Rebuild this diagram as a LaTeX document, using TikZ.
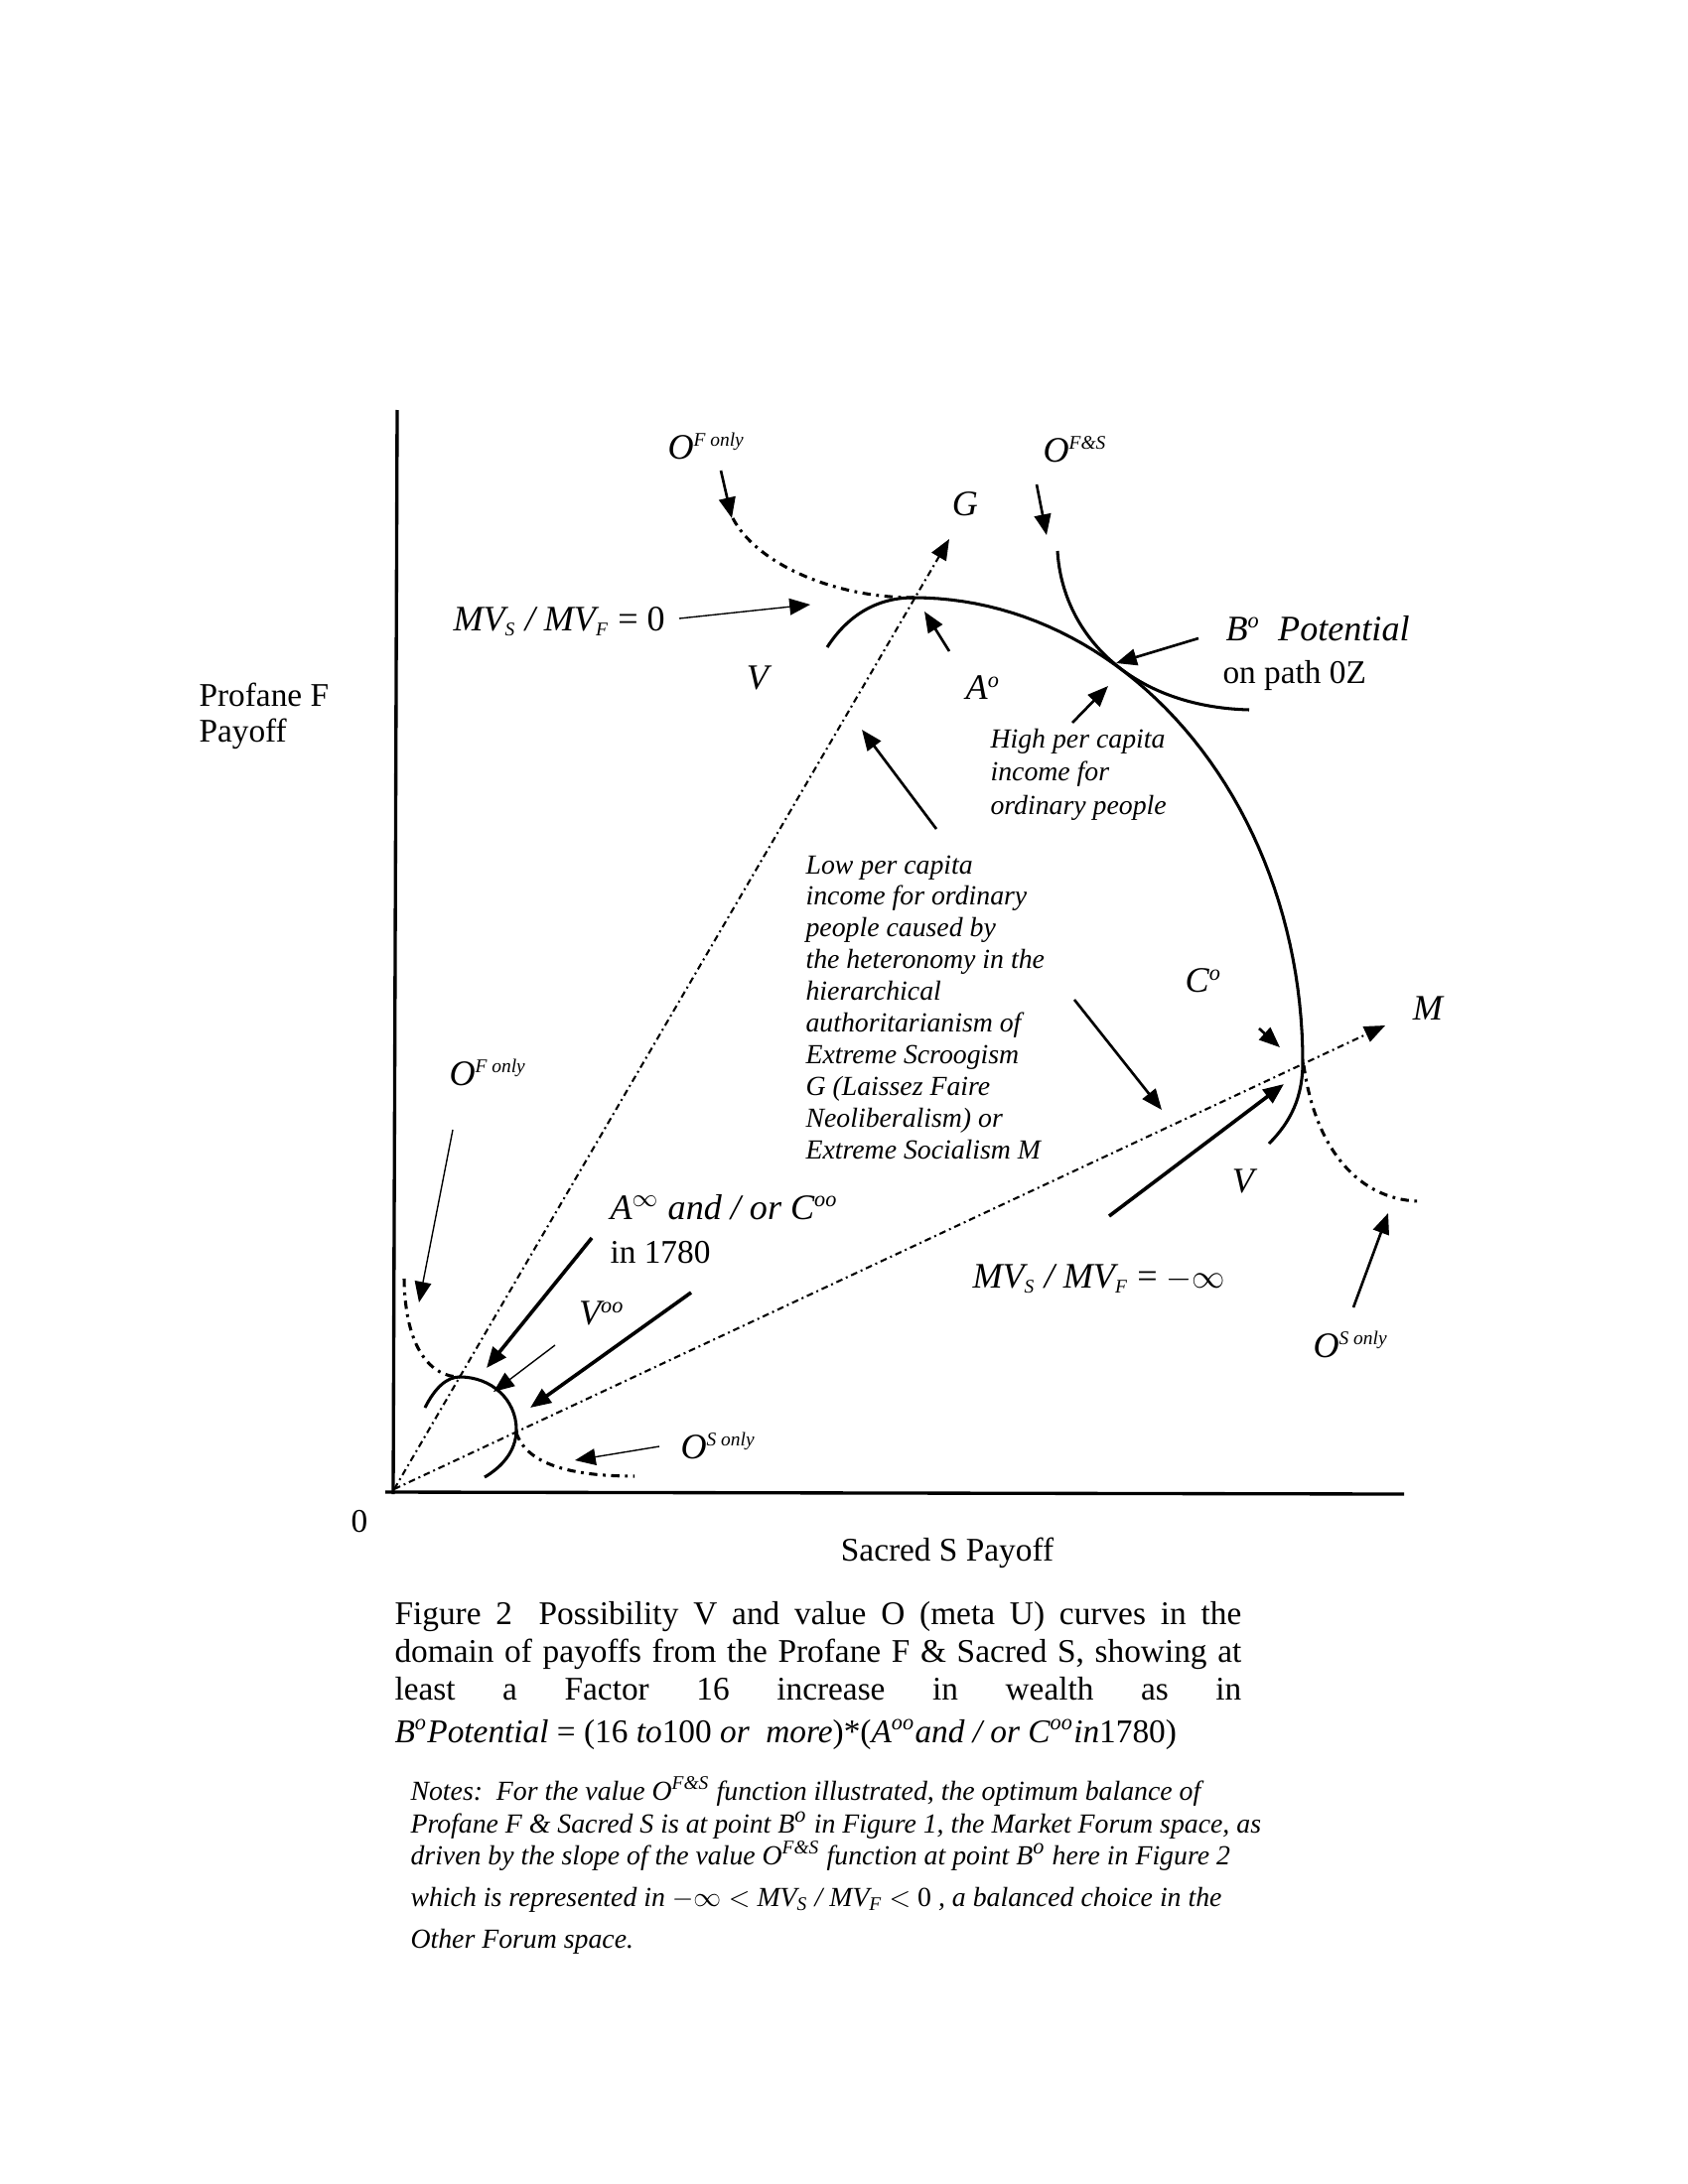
\documentclass[tikz,border=0pt]{standalone}
\usepackage{fontspec}
\setmainfont{Liberation Serif}
\usetikzlibrary{arrows.meta}
\newcommand{\sups}[1]{\textsuperscript{\fontsize{7}{7}\selectfont\itshape #1}}
\newcommand{\subs}[1]{\textsubscript{\fontsize{7}{7}\selectfont\itshape #1}}
\newcommand{\supo}{\textsuperscript{\fontsize{8}{8}\selectfont\itshape o}}
\newcommand{\supoo}{\textsuperscript{\fontsize{8}{8}\selectfont\itshape oo}}
\begin{document}
\begin{tikzpicture}[x=0.36pt,y=-0.36pt,
  axis/.style={line width=1.2pt},
  ray/.style={line width=0.75pt, dash pattern=on 2.4pt off 1.4pt on 0.7pt off 1.4pt},
  ocurve/.style={line width=1.1pt, dash pattern=on 3pt off 2pt on 1pt off 2pt},
  vcurve/.style={line width=1.1pt},
  tip/.style={-{Triangle[length=7.5pt,width=6pt]}},
  thinarr/.style={tip, line width=0.5pt},
  medarr/.style={tip, line width=0.95pt},
  thickarr/.style={tip, line width=1.3pt},
  lab/.style={inner sep=0pt, font=\fontsize{13}{15}\selectfont\itshape},
  txt/.style={inner sep=0pt, font=\fontsize{12}{14}\selectfont},
  itx/.style={inner sep=0pt, font=\fontsize{10}{12}\selectfont\itshape},
]
\fill[white] (0,0) rectangle (1700,2200);
\useasboundingbox (0,0) rectangle (1700,2200);

% axes
\coordinate (O) at (397,1500);
\coordinate (ytop) at (400,413);
\coordinate (ybot) at (396,1505);
\coordinate (xbeg) at (388,1503);
\coordinate (xend) at (1414,1505);
\draw[axis] (ytop) -- (ybot);
\draw[axis] (xbeg) -- (xend);

% rays
\coordinate (Gtip) at (956,543);
\coordinate (Mtip) at (1395,1033);
\draw[ray, tip] (O) -- (Gtip);
\draw[ray, tip] (O) -- (Mtip);

% value curves
\draw[ocurve] (738,522) .. controls (762,568) and (840,602) .. (920,602);
\draw[vcurve] (1065,555) .. controls (1070,640) and (1140,712) .. (1258,715);
\draw[ocurve] (1313,1073) .. controls (1325,1160) and (1370,1208) .. (1428,1210);
\draw[ocurve] (407,1288) .. controls (408,1360) and (435,1387) .. (463,1387);
\draw[ocurve] (520,1443) .. controls (530,1475) and (575,1487) .. (639,1487);

% possibility curves
\draw[vcurve] (833,652) .. controls (855,618) and (885,602) .. (920,602)
  -- plot[domain=90:0, samples=50] ({920+392*cos(\x)},{1070-468*sin(\x)})
  .. controls (1312,1105) and (1300,1130) .. (1278,1152);
\draw[vcurve] (428,1418) .. controls (438,1398) and (450,1387) .. (463,1387)
  .. controls (495,1387) and (520,1410) .. (520,1440)
  .. controls (520,1462) and (505,1478) .. (488,1488);

% arrows
\coordinate (a1s) at (726,474); \coordinate (a1e) at (737,522);
\coordinate (a2s) at (684,623); \coordinate (a2e) at (816,609);
\coordinate (a3s) at (956,656); \coordinate (a3e) at (931,616);
\coordinate (a4s) at (1044,488); \coordinate (a4e) at (1054,539);
\coordinate (a5s) at (1207,643); \coordinate (a5e) at (1124,668);
\coordinate (a6s) at (1080,728); \coordinate (a6e) at (1116,691);
\coordinate (a7s) at (943,835); \coordinate (a7e) at (868,735);
\coordinate (a8s) at (1082,1007); \coordinate (a8e) at (1170,1118);
\coordinate (a9s) at (1268,1036); \coordinate (a9e) at (1289,1055);
\coordinate (a10s) at (1117,1225); \coordinate (a10e) at (1293,1092);
\coordinate (a11s) at (1363,1317); \coordinate (a11e) at (1398,1222);
\coordinate (a12s) at (456,1138); \coordinate (a12e) at (422,1312);
\coordinate (a13s) at (596,1247); \coordinate (a13e) at (490,1378);
\coordinate (a14s) at (559,1355); \coordinate (a14e) at (497,1402);
\coordinate (a15s) at (696,1302); \coordinate (a15e) at (534,1418);
\coordinate (a16s) at (664,1457); \coordinate (a16e) at (579,1471);
\draw[medarr] (a1s) -- (a1e);
\draw[thinarr] (a2s) -- (a2e);
\draw[medarr] (a3s) -- (a3e);
\draw[medarr] (a4s) -- (a4e);
\draw[medarr] (a5s) -- (a5e);
\draw[medarr] (a6s) -- (a6e);
\draw[medarr] (a7s) -- (a7e);
\draw[medarr] (a8s) -- (a8e);
\draw[medarr] (a9s) -- (a9e);
\draw[thickarr] (a10s) -- (a10e);
\draw[medarr] (a11s) -- (a11e);
\draw[thinarr] (a12s) -- (a12e);
\draw[thickarr] (a13s) -- (a13e);
\draw[thinarr] (a14s) -- (a14e);
\draw[thickarr] (a15s) -- (a15e);
\draw[thinarr] (a16s) -- (a16e);

% labels
\node[lab, anchor=base west] (ofonly1) at (672,462) {O\sups{F only}};
\node[lab] (glab) at (972,508) {G};
\node[lab, anchor=base west] (ofs) at (1050,465) {O\sups{F\&S}};
\node[lab, anchor=base west] (mv0) at (456,635) {MV\subs{S} / MV\subs{F} {\upshape = 0}};
\node[lab] (v1) at (763,683) {V};
\node[lab] (alab) at (990,693) {A\supo};
\node[lab, anchor=base west] (bpot) at (1234,645) {B\supo\ \ Potential};
\node[txt, anchor=base west] (path) at (1231,688) {on path 0Z};
\foreach \t [count=\i] in {High per capita, income for, ordinary people}
  \node[itx, anchor=base west] (high\i) at (997,{753+33.5*(\i-1)}) {\t};
\foreach \t [count=\i] in {Low per capita, income for ordinary, people caused by,
  the heteronomy in the, hierarchical, authoritarianism of, Extreme Scroogism,
  G (Laissez Faire, Neoliberalism) or, Extreme Socialism M}
  \node[itx, anchor=base west] (low\i) at (811,{880+31.9*(\i-1)}) {\t};
\node[lab] (clab) at (1212,988) {C\supo};
\node[lab] (mlab) at (1438,1016) {M};
\node[lab] (v2) at (1252,1190) {V};
\node[lab, anchor=base west] (mvinf) at (979,1297) {MV\subs{S} / MV\subs{F} {\upshape = $-\infty$}};
\node[lab, anchor=base west] (osonly1) at (1322,1367) {O\sups{S only}};
\node[lab, anchor=base west] (ofonly2) at (452,1093) {O\sups{F only}};
\node[lab, anchor=base west] (ainf) at (614,1228) {A$^{\infty}$ and / or C\supoo};
\node[txt, anchor=base west] (in1780) at (614,1272) {in 1780};
\node[lab] (voo) at (606,1323) {V\supoo};
\node[lab, anchor=base west] (osonly2) at (685,1469) {O\sups{S only}};
\node[txt] (zero) at (362,1533) {0};
\node[txt, anchor=base] (sacred) at (954,1572) {Sacred S Payoff};
\node[txt, anchor=base west] (prof1) at (200,711) {Profane F};
\node[txt, anchor=base west] (prof2) at (200,747) {Payoff};

% caption
\node[txt, anchor=base west] (cap1) at (397,1636) {\makebox[307pt][s]{Figure 2\hspace{0.35em} Possibility V and value O (meta U) curves in the}};
\node[txt, anchor=base west] (cap2) at (397,1674) {\makebox[307pt][s]{domain of payoffs from the Profane F \& Sacred S, showing at}};
\node[txt, anchor=base west] (cap3) at (397,1712) {\makebox[307pt][s]{least a Factor 16 increase in wealth as in}};
\node[txt, anchor=base west] (cap4) at (397,1755) {{\itshape B\supo Potential} = (16 {\itshape to}100 {\itshape or\ \ more})*({\itshape A\supoo and / or C\supoo in}1780)};

% notes
\node[itx, anchor=base west] (n1) at (413,1813) {Notes:\ \ For the value O\textsuperscript{F\&S} function illustrated, the optimum balance of};
\node[itx, anchor=base west] (n2) at (413,1846) {Profane F \& Sacred S is at point B\supo{} in Figure 1, the Market Forum space, as};
\node[itx, anchor=base west] (n3) at (413,1878) {driven by the slope of the value O\textsuperscript{F\&S} function at point B\supo{} here in Figure 2};
\node[itx, anchor=base west] (n4) at (413,1920) {which is represented in {\upshape $-\infty <$} MV\textsubscript{S} / MV\textsubscript{F} {\upshape $<$ 0} , a balanced choice in the};
\node[itx, anchor=base west] (n5) at (413,1962) {Other Forum space.};
\end{tikzpicture}
\end{document}
